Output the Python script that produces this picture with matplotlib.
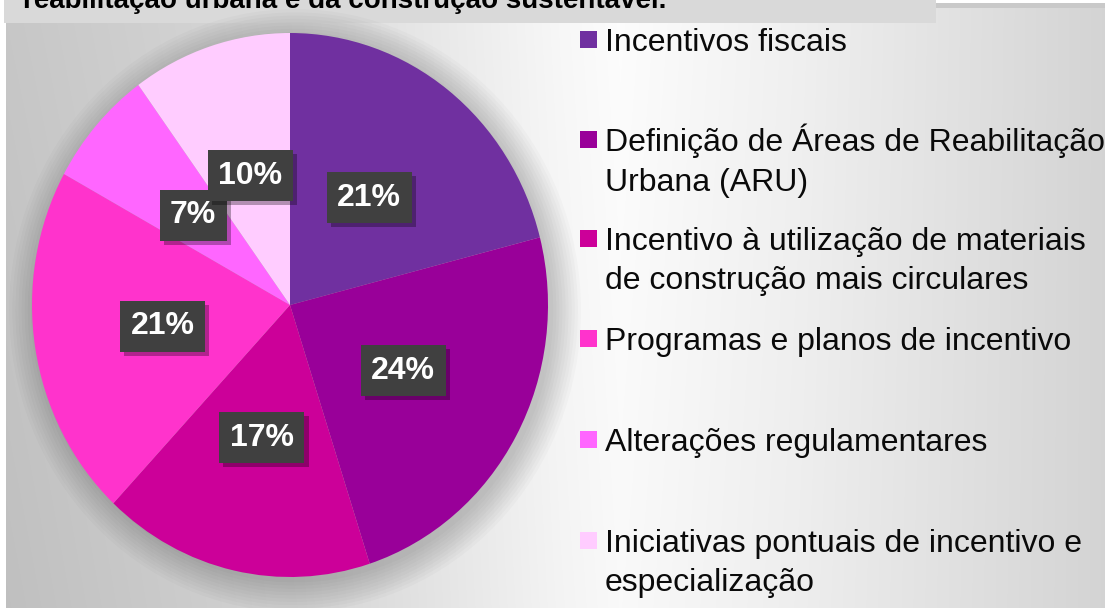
import numpy as np
import matplotlib
matplotlib.use('Agg')
from matplotlib import pyplot as plt
from matplotlib.patches import Rectangle, Ellipse
from matplotlib import patheffects

plt.rcParams['font.family'] = ['Liberation Sans', 'DejaVu Sans']

# dados do gráfico
categorias = [
    'Incentivos fiscais',
    'Definição de Áreas de Reabilitação\nUrbana (ARU)',
    'Incentivo à utilização de materiais\nde construção mais circulares',
    'Programas e planos de incentivo',
    'Alterações regulamentares',
    'Iniciativas pontuais de incentivo e\nespecialização',
]
percentagens = [21, 24, 17, 21, 7, 10]
cores = ['#7030A0', '#990099', '#CC0099', '#FF33CC', '#FF66FF', '#FFCCFF']
titulo = 'reabilitação urbana e da construção sustentável.'

W, H = 1105, 608
fig = plt.figure(figsize=(W / 100, H / 100), dpi=100)

# fundo com gradiente (coordenadas em pixels)
bg = fig.add_axes([0, 0, 1, 1])
bg.set_xlim(0, W)
bg.set_ylim(H, 0)
bg.axis('off')
xs = np.arange(W)
perfil = np.interp(xs, [0, 300, 560, 620, 800, 1105],
                   [0.78, 0.85, 0.97, 0.99, 0.94, 0.83])
ys = np.arange(H)[:, None]
img = perfil[None, :] - 0.03 * (ys / H) * (1 - xs[None, :] / W)
img = np.clip(img, 0, 1)
bg.imshow(np.dstack([img, img, img]), extent=(0, W, H, 0), aspect='auto', zorder=0)
bg.add_patch(Rectangle((0, 0), 6, H, fc='white', ec='none', zorder=1))
bg.add_patch(Rectangle((0, 0), W, 3, fc='white', ec='none', zorder=1))
bg.add_patch(Rectangle((936, 3), W - 936, 5, fc='#c9c9c9', ec='none', zorder=1))

# caixa do título (cortada no topo)
bg.add_patch(Rectangle((4, 0), 932, 23, fc='#d9d9d9', ec='none', zorder=2))
bg.text(23, 8, titulo, fontsize=20, fontweight='bold', color='black',
        va='baseline', ha='left', zorder=3)

# legenda manual
baselines = [51, 151, 250, 350, 451, 552]
for cat, cor, yb in zip(categorias, cores, baselines):
    bg.add_patch(Rectangle((580, yb - 20), 17, 17, fc=cor, ec='none', zorder=3))
    for i, linha in enumerate(cat.split('\n')):
        bg.text(605, yb + i * 39.5, linha, fontsize=23, color='#0a0a0a',
                va='baseline', ha='left', zorder=3)

# gráfico circular
ax = fig.add_axes([32 / W, 31 / H, 516 / W, 544 / H])
for k in range(10):
    s = 1 + 0.012 * k
    ax.add_patch(Ellipse((0.02, -0.02), 2 * s, 2 * s, fc='black',
                         alpha=0.018, ec='none', clip_on=False, zorder=0))
wedges, textos, autotextos = ax.pie(
    percentagens, colors=cores, startangle=90, counterclock=False,
    radius=1, autopct=lambda p: f'{p:.0f}%', pctdistance=0.5,
    wedgeprops=dict(linewidth=0),
    textprops=dict(color='white', fontsize=23, fontweight='bold'))
ax.set_xlim(-1, 1)
ax.set_ylim(-1, 1)
ax.set_aspect('auto')
ax.axis('off')

for i, t in enumerate(autotextos):
    t.set_zorder(10 + i)
    t.set_bbox(dict(boxstyle='square,pad=0.33', fc='#404040', ec='none'))
    t.get_bbox_patch().set_path_effects([
        patheffects.SimplePatchShadow(offset=(3, -3), shadow_rgbFace='black', alpha=0.3),
        patheffects.Normal()])

fig.savefig('out.png', dpi=100)
